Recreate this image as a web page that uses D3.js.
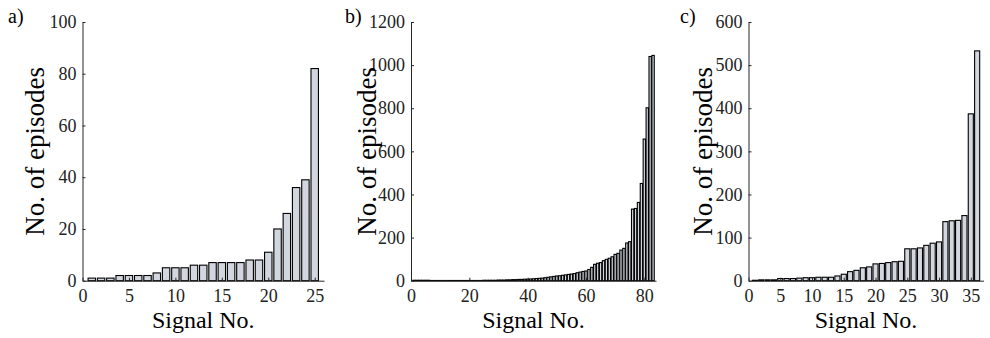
<!DOCTYPE html>
<html>
<head>
<meta charset="utf-8">
<script src="https://cdn.jsdelivr.net/npm/d3@7"></script>
<style>
  html, body { margin: 0; padding: 0; background: #fff; }
  svg { display: block; }
  text { font-family: "Liberation Serif", "Times New Roman", serif; fill: #000; }
  .tick text { font-family: "Liberation Serif", "Times New Roman", serif !important; font-size: 18px !important; fill: #222; }
</style>
</head>
<body>
<svg id="chart" width="990" height="338"></svg>
<script>
// Episode counts per signal, sorted ascending, one array per panel
const episodesA = [1, 1, 1, 2, 2, 2, 2, 3, 5, 5, 5, 6, 6, 7, 7, 7, 7, 8, 8, 11, 20, 26, 36, 39, 82];
const episodesB = [
  2, 2, 2, 2, 2, 2, 1, 1, 1, 1, 1, 1, 1, 1, 1, 1, 1, 1, 1, 1,
  1, 1, 1, 1, 2, 2, 2, 2, 2, 3, 3, 3, 4, 4, 5, 5, 6, 6, 7, 7,
  8, 9, 10, 11, 12, 14, 16, 18, 20, 22, 23, 25, 27, 29, 31, 33, 37, 40, 43, 45,
  52, 62, 76, 81, 84, 93, 99, 104, 111, 122, 127, 142, 150, 175, 181, 332, 335, 363, 451, 657,
  802, 1040, 1045
];
const episodesC = [1, 2, 2, 2, 5, 5, 5, 6, 7, 7, 8, 8, 8, 11, 15, 21, 24, 30, 32, 39, 40, 42, 44, 45,
  74, 74, 76, 82, 87, 90, 137, 139, 140, 151, 387, 533];

// Axis tick values per panel
const xTicksA = [0, 5, 10, 15, 20, 25];
const yTicksA = [0, 20, 40, 60, 80, 100];
const xTicksB = [0, 20, 40, 60, 80];
const yTicksB = [0, 200, 400, 600, 800, 1000, 1200];
const xTicksC = [0, 5, 10, 15, 20, 25, 30, 35];
const yTicksC = [0, 100, 200, 300, 400, 500, 600];

const panelLabels = ["a)", "b)", "c)"];
const xTitle = "Signal No.";
const yTitle = "No. of episodes";

const panels = [
  { label: panelLabels[0], data: episodesA, xMax: 26, yMax: 100, xTicks: xTicksA, yTicks: yTicksA,
    left: 82.5, right: 324, labelX: 8, yTitleX: 44 },
  { label: panelLabels[1], data: episodesB, xMax: 84, yMax: 1200, xTicks: xTicksB, yTicks: yTicksB,
    left: 411, right: 656, labelX: 345, yTitleX: 376 },
  { label: panelLabels[2], data: episodesC, xMax: 37, yMax: 600, xTicks: xTicksC, yTicks: yTicksC,
    left: 748.5, right: 983.5, labelX: 680, yTitleX: 712 }
];

const plotTop = 22, plotBottom = 280.7;
const axisColor = "#262626";
const serif = '"Liberation Serif", "Times New Roman", serif';
const barFill = "#d2d6df";
const barWidth = 0.8;

const svg = d3.select("#chart");

panels.forEach(p => {
  const x = d3.scaleLinear().domain([0, p.xMax]).range([p.left, p.right]);
  const y = d3.scaleLinear().domain([0, p.yMax]).range([plotBottom, plotTop]);
  const g = svg.append("g");

  // bars
  g.append("g").selectAll("rect")
    .data(p.data)
    .join("rect")
    .attr("x", (d, i) => x(i + 1 - barWidth / 2))
    .attr("width", x(barWidth) - x(0))
    .attr("y", d => y(d))
    .attr("height", d => y(0) - y(d))
    .attr("fill", barFill)
    .attr("stroke", "#000")
    .attr("stroke-width", 1.1);

  // axes with inward ticks
  const xAxis = d3.axisBottom(x).tickValues(p.xTicks).tickFormat(d3.format("d"))
    .tickSizeInner(-3).tickSizeOuter(0).tickPadding(9);
  const yAxis = d3.axisLeft(y).tickValues(p.yTicks).tickFormat(d3.format("d"))
    .tickSizeInner(-3).tickSizeOuter(0).tickPadding(6);

  const gx = g.append("g").attr("transform", `translate(0,${plotBottom})`).call(xAxis);
  const gy = g.append("g").attr("transform", `translate(${p.left},0)`).call(yAxis);

  [gx, gy].forEach(a => {
    a.attr("font-family", serif).attr("font-size", 18);
    a.select(".domain").attr("stroke", axisColor).attr("stroke-width", 1);
    a.selectAll(".tick line").attr("stroke", axisColor).attr("stroke-width", 1);
  });

  // axis titles
  g.append("text")
    .attr("x", (p.left + p.right) / 2)
    .attr("y", 328)
    .attr("text-anchor", "middle")
    .style("font-size", "24px")
    .attr("fill", "#222")
    .text(xTitle);

  g.append("text")
    .attr("transform", `translate(${p.yTitleX},${(plotTop + plotBottom) / 2}) rotate(-90)`)
    .attr("text-anchor", "middle")
    .style("font-size", "27px")
    .attr("fill", "#222")
    .text(yTitle);

  // panel letter
  g.append("text")
    .attr("x", p.labelX)
    .attr("y", 23)
    .style("font-size", "20px")
    .text(p.label);
});
</script>
</body>
</html>
